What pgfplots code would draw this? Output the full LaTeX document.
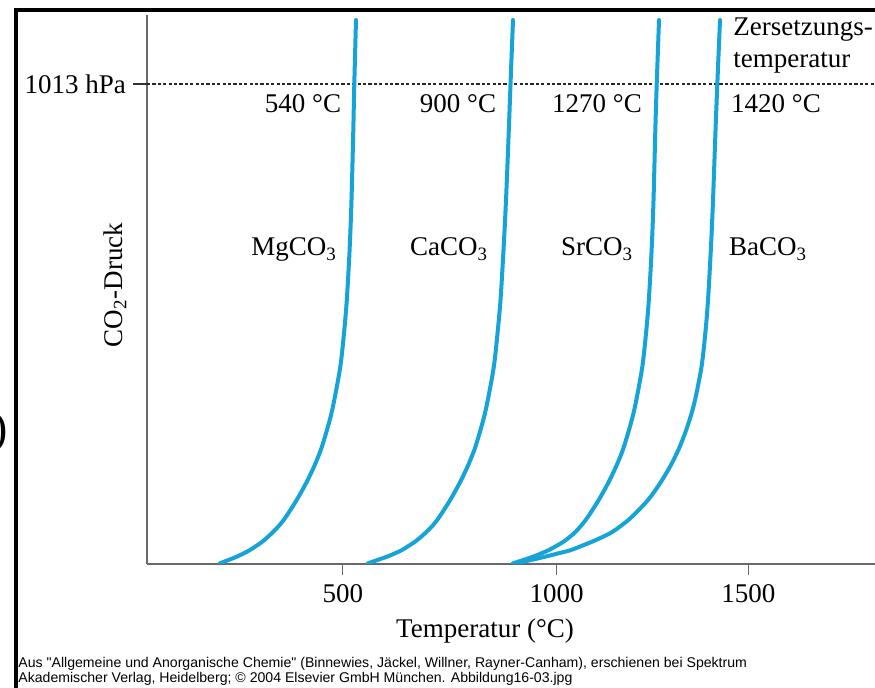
\documentclass[border=0pt]{standalone}
\usepackage{pgfplots}
\usepackage{pgfplotstable}
\pgfplotsset{compat=1.18}
\usepackage{fontspec}
\setmainfont{Liberation Serif}
\newfontfamily\capfont{Liberation Sans}
\definecolor{curve}{RGB}{22,164,216}
\definecolor{axgray}{RGB}{105,105,105}
% pressure (arbitrary units, 1013 = 1013 hPa) vs. temperature (deg C) of each carbonate
\pgfplotstableread{
P Mg Ca Sr Ba
1.48 197.24 562.13 919.62 924.56
8.44 218.19 585.55 945.51 964.00
15.41 238.41 608.97 968.93 998.52
22.58 255.92 628.70 989.89 1031.80
29.55 271.20 645.96 1008.38 1062.62
47.06 301.53 678.01 1044.13 1114.40
64.79 324.70 702.66 1070.02 1158.78
82.31 344.43 722.88 1089.00 1188.36
99.82 359.96 738.41 1104.54 1213.02
135.07 386.34 764.79 1130.92 1252.46
170.31 409.27 787.72 1153.84 1282.05
205.34 428.99 807.44 1173.57 1306.70
240.59 445.76 824.21 1190.33 1327.17
275.83 458.58 837.03 1203.15 1343.69
310.86 469.92 848.37 1214.50 1357.25
346.11 479.04 857.49 1223.62 1368.34
416.38 493.84 872.29 1238.41 1384.37
486.87 502.96 881.41 1247.53 1393.72
557.15 509.86 888.81 1254.44 1400.39
662.67 516.76 896.20 1261.34 1407.29
768.19 521.45 902.37 1266.02 1412.72
915.91 525.89 909.27 1270.46 1418.88
1013.00 528.36 913.46 1273.91 1423.32
1148.06 532.54 919.62 1279.58 1429.98
}\curves
\begin{document}
\begin{tikzpicture}
\useasboundingbox (0pt,0pt) rectangle (437.5pt,-344pt);
\fill[white] (0pt,0pt) rectangle (437.5pt,-344pt);
\begin{axis}[
  at={(73.5pt,-282pt)}, anchor=south west,
  scale only axis, width=364pt, height=274.5pt,
  xmin=17.3, xmax=1812, ymin=0, ymax=1158.6,
  axis x line=bottom, axis y line=left,
  axis line style={axgray, line width=0.75pt, -},
  xtick={500,1027.4,1500}, xticklabels={500,1000,1500},
  xticklabel style={yshift=-1pt},
  ytick=\empty,
  extra y ticks={1013}, extra y tick labels={1013 hPa},
  extra y tick style={major tick length=7pt, tick style={black!80, line width=0.6pt}},
  tick align=outside, major tick length=5.5pt,
  tick style={axgray, line width=0.6pt},
  font=\fontsize{13.5}{16}\selectfont,
  /pgf/number format/assume math mode=true,
  cstyle/.style={curve, line width=2pt, smooth, line cap=round, no markers},
]
\addplot[black!85, line width=0.7pt, dash pattern=on 1.6pt off 1.1pt, no markers] coordinates {(17.3,1013) (1812,1013)};
\addplot[cstyle] table[x=Mg, y=P] {\curves};
\addplot[cstyle] table[x=Ca, y=P] {\curves};
\addplot[cstyle] table[x=Sr, y=P] {\curves};
\addplot[cstyle] table[x=Ba, y=P] {\curves};
\end{axis}
\begin{scope}[x=0.5pt,y=-0.5pt,font=\fontsize{13.5}{16}\selectfont]
\draw[black, line width=2pt] (14,10) -- (875,10);
\draw[black, line width=2pt] (16,9) -- (16,688);
\node[inner sep=0, anchor=base east, font=\fontsize{23}{26}\selectfont] at (8,444) {)};
\node[inner sep=0, anchor=base] at (303,113) {540 °C};
\node[inner sep=0, anchor=base] at (458,113) {900 °C};
\node[inner sep=0, anchor=base] at (597,113) {1270 °C};
\node[inner sep=0, anchor=base] at (776,113) {1420 °C};
\node[inner sep=0, anchor=base west] at (733,36) {Zersetzungs-};
\node[inner sep=0, anchor=base west] at (733,68) {temperatur};
\node[inner sep=0, anchor=base] at (294,256) {MgCO\textsubscript{3}};
\node[inner sep=0, anchor=base] at (449,256) {CaCO\textsubscript{3}};
\node[inner sep=0, anchor=base] at (597,256) {SrCO\textsubscript{3}};
\node[inner sep=0, anchor=base] at (768,256) {BaCO\textsubscript{3}};
\node[inner sep=0, anchor=base] at (485,638) {Temperatur (°C)};
\node[inner sep=0, anchor=base, rotate=90] at (122,285) {CO\textsubscript{2}-Druck};
\node[inner sep=0, anchor=base west, font=\capfont\fontsize{7.05}{8}\selectfont] at (18,667.5) {Aus "Allgemeine und Anorganische Chemie" (Binnewies, Jäckel, Willner, Rayner-Canham), erschienen bei Spektrum};
\node[inner sep=0, anchor=base west, font=\capfont\fontsize{7.05}{8}\selectfont] at (18,682.5) {Akademischer Verlag, Heidelberg; © 2004 Elsevier GmbH München. Abbildung16-03.jpg};
\end{scope}
\end{tikzpicture}
\end{document}
